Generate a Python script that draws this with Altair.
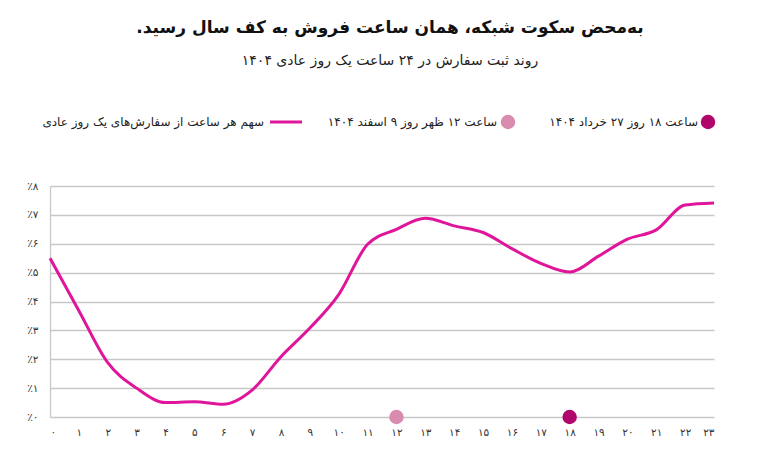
import json
import altair as alt
import pandas as pd

# hourly share of one normal day's orders (%)
hours = list(range(24))
share = [5.5, 3.68, 1.88, 1.0, 0.5, 0.53, 0.44, 0.93, 2.09, 3.08, 4.24, 5.98,
         6.5, 6.88, 6.62, 6.39, 5.83, 5.32, 5.02, 5.57, 6.16, 6.48, 7.34, 7.41]

x_labels = ["۰", "۱", "۲", "۳", "۴", "۵", "۶", "۷", "۸", "۹", "۱۰", "۱۱",
            "۱۲", "۱۳", "۱۴", "۱۵", "۱۶", "۱۷", "۱۸", "۱۹", "۲۰", "۲۱", "۲۲", "۲۳"]
y_labels = ["٪۰", "٪۱", "٪۲", "٪۳", "٪۴", "٪۵", "٪۶", "٪۷", "٪۸"]

# outage hours: share dropped to zero
marker_hours = [12, 18]
marker_share = [0, 0]
marker_names = ["ساعت ۱۲ ظهر روز ۹ اسفند ۱۴۰۴", "ساعت ۱۸ روز ۲۷ خرداد ۱۴۰۴"]
line_name = "سهم هر ساعت از سفارش‌های یک روز عادی"

title = "به‌محض سکوت شبکه، همان ساعت فروش به کف سال رسید.\u200f"
subtitle = "روند ثبت سفارش در ۲۴ ساعت یک روز عادی ۱۴۰۴"

LINE = "#e0169a"
LIGHT = "#d98bb0"
DARK = "#b0066c"
GRID = "#c8c8c8"
FONT = "DejaVu Sans"

df = pd.DataFrame({"hour": hours, "share": share})
marks = pd.DataFrame({"hour": marker_hours, "share": marker_share, "name": marker_names})

W, H = 664, 231

x = alt.X("hour:Q", scale=alt.Scale(domain=[0, 23], nice=False),
          axis=alt.Axis(values=hours, grid=False, domain=False, ticks=False, labelOverlap=False,
                        labelExpr=f"{json.dumps(x_labels)}[datum.value]",
                        labelPadding=10, labelFontSize=10.5, labelColor="#333",
                        labelFont=FONT, title=None))
y = alt.Y("share:Q", scale=alt.Scale(domain=[0, 8], nice=False),
          axis=alt.Axis(values=list(range(9)), gridColor=GRID, gridWidth=1.3, labelOverlap=False,
                        domainColor=GRID, domainWidth=1.3, ticks=False,
                        labelExpr=f"{json.dumps(y_labels)}[datum.value]",
                        labelPadding=12, labelFontSize=10.5, labelColor="#333",
                        labelFont=FONT, title=None))

line = alt.Chart(df).mark_line(color=LINE, strokeWidth=3, interpolate="monotone").encode(x=x, y=y)

points = alt.Chart(marks).mark_circle(size=210, opacity=1).encode(
    x=x, y=y,
    color=alt.Color("name:N", scale=alt.Scale(domain=marker_names, range=[LIGHT, DARK]), legend=None),
)

# legend drawn right-to-left above the plot
LY = -64
def label(text, xr):
    return alt.Chart(pd.DataFrame({"t": [text]})).mark_text(
        align="right", baseline="middle", font=FONT, fontSize=12, color="#222"
    ).encode(text="t:N", x=alt.value(xr), y=alt.value(LY))

def dot(color, xc):
    return alt.Chart(pd.DataFrame({"t": [0]})).mark_circle(size=210, color=color, opacity=1).encode(
        x=alt.value(xc), y=alt.value(LY))

leg_line = alt.Chart(pd.DataFrame({"t": [0]})).mark_rule(color=LINE, strokeWidth=3).encode(
    x=alt.value(220), x2=alt.value(252), y=alt.value(LY))

legend = (dot(DARK, 658) + label(marker_names[1], 648)
          + dot(LIGHT, 458) + label(marker_names[0], 447)
          + leg_line + label(line_name, 214))

chart = (line + points + legend).properties(
    width=W, height=H,
    autosize=alt.AutoSizeParams(type="none"),
    padding={"left": 42, "top": 178, "right": 58, "bottom": 40},
    title=alt.TitleParams(text=title, subtitle=subtitle, anchor="middle", frame="group",
                          font=FONT, fontSize=17, fontWeight="bold", color="#111",
                          subtitleFont=FONT, subtitleFontSize=14, subtitleColor="#222",
                          subtitlePadding=17, offset=46, dx=8),
).configure_view(stroke=None)

chart.save("out.html", embed_options={"renderer": "svg", "actions": False})
